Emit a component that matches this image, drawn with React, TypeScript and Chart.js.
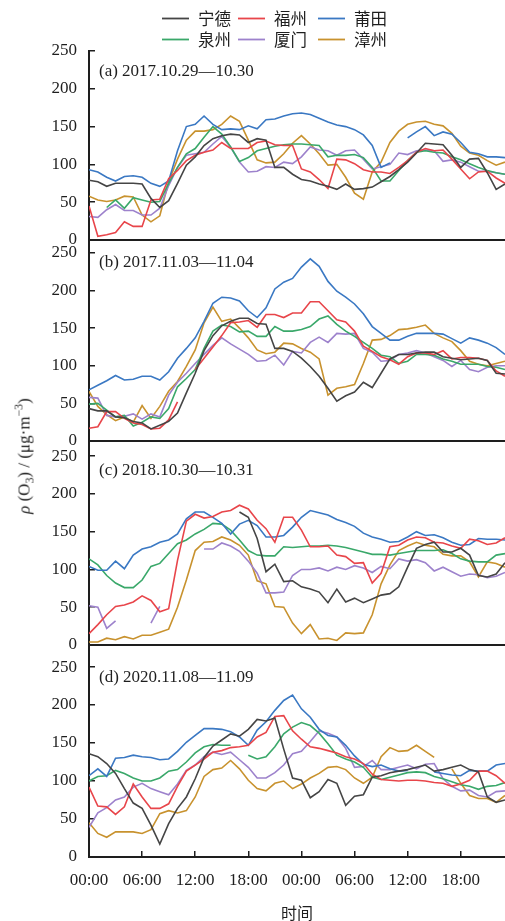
import React, { useEffect, useRef } from "react";
import { Chart, registerables } from "chart.js";

Chart.register(...registerables);

// ---------- data ----------
const HOURS = Array.from({ length: 48 }, (_, i) => i);
const X_TICKS = [0, 6, 12, 18, 24, 30, 36, 42];
const X_TICK_LABELS = ["00:00", "06:00", "12:00", "18:00", "00:00", "06:00", "12:00", "18:00"];
const Y_TICKS = [0, 50, 100, 150, 200, 250];
const CITIES = ["宁德", "福州", "莆田", "泉州", "厦门", "漳州"];
const PANEL_TITLES = [
  "(a) 2017.10.29—10.30",
  "(b) 2017.11.03—11.04",
  "(c) 2018.10.30—10.31",
  "(d) 2020.11.08—11.09",
];

const _ = null;

// (a) 2017.10.29—10.30
const A_NINGDE = [79, 77, 71, 75, 75, 75, 74, 55, 43, 52, 75, 99, 110, 125, 134, 138, 140, 139, 129, 134, 132, 96, 96, 87, 80, 78, 74, 71, 67, 74, 67, 68, 70, 77, 84, 93, 103, 115, 128, 127, 126, 112, 96, 107, 108, 89, 67, 74];
const A_FUZHOU = [45, 5, 7, 10, 24, 18, 18, 53, 54, 81, 92, 105, 112, 116, 119, 129, 121, 121, 121, 129, 131, 126, 125, 125, 94, 90, 80, 68, 107, 106, 101, 93, 90, 90, 88, 96, 105, 116, 121, 118, 119, 107, 94, 81, 90, 91, 82, 75];
const A_PUTIAN = [93, 90, 83, 78, 84, 85, 83, 75, 71, 78, 118, 150, 153, 164, 153, 146, 147, 146, 151, 147, 159, 160, 164, 167, 168, 166, 161, 156, 152, 150, 146, 139, 125, 96, 102, _, 135, 143, 150, 138, 143, 140, 129, 116, 114, 110, 110, 109];
const A_QUANZHOU = [_, _, 43, 53, 42, 56, 53, 50, 51, 75, 96, 114, 121, 136, 150, 140, 123, 104, 109, 118, 121, 124, 126, 127, 127, 126, 125, 110, 112, 112, 113, 109, 96, 78, 78, 92, 105, 116, 118, 116, 115, 110, 106, 101, 96, 92, 89, 87];
const A_XIAMEN = [31, 30, 40, 47, 39, 39, 33, 33, 42, 72, 96, 112, 114, 116, 127, 137, 123, 103, 90, 91, 97, 96, 103, 101, 110, 123, 119, 118, 112, 118, 119, 107, 94, 97, 100, 115, 113, 118, 119, 118, 104, 106, 103, 97, 91, 91, 89, 87];
const A_ZHANGZHOU = [58, 53, 51, 53, 58, 57, 33, 24, 32, 77, 107, 132, 144, 144, 146, 153, 164, 157, 132, 106, 102, 103, 114, 128, 138, 127, 114, 99, 100, 83, 62, 54, 90, 103, 129, 144, 153, 156, 157, 153, 151, 141, 124, 115, 112, 105, 99, 103];

// (b) 2017.11.03—11.04
const B_NINGDE = [43, 40, 40, 32, 31, 26, 24, 16, 21, 26, 37, 64, 90, 120, 140, 153, 159, 163, 163, 156, 155, 123, 123, 119, 110, 99, 86, 70, 53, 60, 65, 78, 71, 90, 109, 115, 115, 117, 118, 118, 112, 110, 108, 109, 110, 107, 90, 89];
const B_FUZHOU = [17, 19, 39, 39, 30, 24, 22, 16, 17, 28, 52, _, 95, 110, 125, 140, 157, 158, 160, 151, 168, 168, 164, 170, 170, 185, 185, 173, 161, 158, 146, 126, 119, 112, 108, 102, 112, 117, 117, 115, 120, 109, 111, 111, 110, 107, 93, 86];
const B_PUTIAN = [68, 74, 80, 87, 81, 82, 86, 86, 81, 92, 110, 123, 137, 159, 183, 191, 190, 186, 173, 164, 177, 202, 211, 216, 231, 242, 232, 212, 199, 191, 182, 169, 152, 143, 134, 134, 139, 143, 143, 143, 142, 136, 130, 137, 134, 130, 124, 115];
const B_QUANZHOU = [49, 50, 41, 32, 34, 20, 25, 32, 30, 43, 72, 83, 95, 123, 146, 154, 152, 145, 146, 139, 139, 152, 146, 146, 148, 152, 162, 166, 155, 146, 139, 131, 123, 114, 112, 103, 106, 115, 115, 114, 109, 106, 102, 102, 102, 99, 98, 95];
const B_XIAMEN = [58, 57, 34, 32, 33, 36, 29, 36, 32, 61, 78, 90, 103, 115, 127, 137, 129, 122, 115, 106, 107, 114, 101, 119, 117, 131, 138, 131, 143, 142, 143, 123, 118, 106, 107, 115, 117, 120, 117, 112, 107, 99, 107, 95, 92, 98, 100, 100];
const B_ZHANGZHOU = [66, 46, 35, 27, 32, 25, 47, 30, 46, 66, 79, 99, 121, 157, 178, 159, 162, 150, 137, 121, 116, 118, 130, 129, 123, 118, 109, 61, 70, 72, 75, 103, 134, 135, 140, 148, 149, 151, 154, 143, 137, 132, 120, 106, 102, 100, 103, 106];

// (c) 2018.10.30—10.31
const C_NINGDE = [_, _, _, _, _, _, _, _, _, _, _, _, _, _, _, _, _, 176, 169, 141, 97, 107, 84, 85, 77, 74, 70, 56, 74, 57, 62, 56, 61, 66, 68, 77, 103, 128, 133, 136, 123, 123, 128, 119, 92, 90, 94, 109];
const C_FUZHOU = [15, 27, 40, 51, 53, 57, 65, 59, 44, 48, 112, 164, 173, 168, 170, 176, 178, 185, 180, 165, 154, 136, 169, 169, 152, 130, 130, 131, 119, 117, 108, 109, 82, 95, 130, 132, 139, 143, 142, 136, 135, 131, 128, 140, 138, 133, 135, 142];
const C_PUTIAN = [104, 99, 99, 111, 101, 119, 127, 130, 136, 139, 147, 167, 176, 176, 169, 161, 147, 160, 165, 158, 143, 143, 145, 156, 169, 178, 175, 172, 166, 162, 157, 148, 143, 140, 136, 137, 143, 150, 145, 146, 142, 136, 132, 133, 141, 140, 140, 139];
const C_QUANZHOU = [114, 106, 92, 82, 76, 76, 86, 104, 108, 121, 134, 139, 147, 153, 161, 160, 152, 139, 125, 119, 118, 118, 130, 129, 130, 131, 131, 132, 131, 129, 126, 123, 120, 120, 119, 121, 123, 125, 125, 125, 126, 121, 114, 111, 110, 110, 119, 121];
const C_XIAMEN = [52, 50, 22, 32, _, _, _, 29, 51, _, _, _, _, 127, 127, 135, 131, 124, 111, 95, 69, 69, 70, 92, 100, 100, 102, 98, 103, 100, 105, 102, 96, 104, 101, 114, 111, 113, 109, 98, 103, 97, 91, 94, 93, 89, 91, 96];
const C_ZHANGZHOU = [4, 4, 9, 7, 11, 8, 13, 13, 17, 21, 50, 86, 125, 136, 137, 143, 139, 132, 119, 85, 81, 51, 50, 29, 15, 27, 8, 9, 6, 16, 15, 16, 40, 81, 106, 125, 131, 136, 132, 130, 120, 118, 118, 110, 90, 110, 108, 103];

// (d) 2020.11.08—11.09
const D_NINGDE = [136, 132, 123, 110, 90, 71, 64, 42, 17, 44, 64, 79, 103, 131, 146, 154, 162, 159, 168, 181, 179, 183, 142, 104, 101, 78, 86, 102, 97, 68, 80, 82, 105, 107, 111, 113, 115, 118, 121, 113, 115, 118, 121, 115, 112, 79, 72, 75];
const D_FUZHOU = [92, 67, 66, 56, 66, 96, 79, 64, 64, 70, 93, 113, 121, 129, 138, 140, 144, 145, 147, 158, 164, 185, 186, 166, 155, 145, 143, 140, 137, 132, 129, 123, 109, 102, 101, 100, 101, 101, 100, 98, 97, 93, 96, 101, 113, 113, 107, 97];
const D_PUTIAN = [107, 116, 106, 130, 131, 134, 132, 131, 128, 129, 139, 151, 160, 169, 169, 168, 165, 158, 147, 167, 178, 193, 206, 213, 195, 184, 168, 160, 158, 147, 133, 122, 119, 121, 116, 113, 114, _, _, 112, 110, 108, 107, 114, 113, 113, 121, 123];
const D_QUANZHOU = [100, 106, 107, 114, 110, 104, 100, 100, 104, 113, 115, 125, 137, 145, 148, 147, 147, _, 134, 129, 132, 145, 162, 171, 177, 173, 163, 149, 134, 129, 125, 118, 105, 102, 105, 108, 111, 112, 111, 106, 103, 99, 95, 93, 89, 93, 94, 98];
const D_XIAMEN = [39, 58, 65, 75, 79, 92, 97, 90, 86, 82, 96, 114, 121, 132, 138, 135, 138, 128, 118, 104, 104, 111, 121, 136, 139, 152, 166, 163, 158, 143, 118, 119, 127, 115, 115, 118, 121, 116, 122, 123, 103, 93, 87, 88, 81, 79, 86, 87];
const D_ZHANGZHOU = [45, 31, 26, 33, 33, 33, 31, 36, 57, 61, 58, 61, 79, 106, 115, 117, 127, 116, 101, 90, 87, 97, 100, 90, 96, 104, 110, 118, 119, 115, 104, 97, 105, 132, 144, 139, 140, 147, 139, 131, _, 116, 97, 81, 77, 77, 72, 81];

const PANEL_SERIES = [
  [A_NINGDE, A_FUZHOU, A_PUTIAN, A_QUANZHOU, A_XIAMEN, A_ZHANGZHOU],
  [B_NINGDE, B_FUZHOU, B_PUTIAN, B_QUANZHOU, B_XIAMEN, B_ZHANGZHOU],
  [C_NINGDE, C_FUZHOU, C_PUTIAN, C_QUANZHOU, C_XIAMEN, C_ZHANGZHOU],
  [D_NINGDE, D_FUZHOU, D_PUTIAN, D_QUANZHOU, D_XIAMEN, D_ZHANGZHOU],
];

// ---------- styles / layout ----------
const COLORS = ["#454545", "#e8454a", "#3a78c3", "#3aa86a", "#9d82cc", "#c8922e"];
const INK = "#1e1e1e";
const SERIF = "'Liberation Serif', 'Times New Roman', 'DejaVu Serif', serif";
const CJK = "'Noto Sans CJK SC', 'Noto Sans', sans-serif";
const W = 505;
const H = 921;
const AXIS_X = 89;
const PAD = 40;

// chart-area top/bottom (page px) and y max per panel
const PANEL_LAYOUT = [
  { top: 51, bottom: 240, yMax: 250, labelDy: 21 },
  { top: 240, bottom: 441, yMax: 267, labelDy: 23 },
  { top: 441, bottom: 645, yMax: 270, labelDy: 30 },
  { top: 645, bottom: 857, yMax: 279, labelDy: 33 },
];

const legendPlugin = {
  id: "cityLegend",
  afterDraw(chart: any, _args: any, opts: any) {
    if (!opts || !opts.show) return;
    const ctx = chart.ctx as CanvasRenderingContext2D;
    const cols = [162, 238, 318];
    const rows = [18.5, 39.5];
    ctx.save();
    chart.data.datasets.forEach((ds: any, i: number) => {
      const x = cols[i % 3];
      const y = rows[Math.floor(i / 3)];
      ctx.strokeStyle = ds.borderColor;
      ctx.lineWidth = 1.8;
      ctx.beginPath();
      ctx.moveTo(x, y);
      ctx.lineTo(x + 27, y);
      ctx.stroke();
      ctx.fillStyle = INK;
      ctx.font = `16.5px ${CJK}`;
      ctx.textBaseline = "middle";
      ctx.textAlign = "left";
      ctx.fillText(ds.label, x + 36, y + 0.5);
    });
    ctx.restore();
  },
};

const panelLabelPlugin = {
  id: "panelLabel",
  afterDraw(chart: any, _args: any, opts: any) {
    if (!opts || !opts.text) return;
    const ctx = chart.ctx as CanvasRenderingContext2D;
    const { left, top } = chart.chartArea;
    ctx.save();
    ctx.fillStyle = INK;
    ctx.font = `17px ${SERIF}`;
    ctx.textBaseline = "middle";
    ctx.textAlign = "left";
    ctx.fillText(opts.text, left + 10, top + opts.dy);
    ctx.restore();
  },
};

function Panel({ index }: { index: number }) {
  const ref = useRef<HTMLCanvasElement | null>(null);
  const lay = PANEL_LAYOUT[index];
  const isFirst = index === 0;
  const isLast = index === PANEL_LAYOUT.length - 1;
  const canvasTop = isFirst ? 0 : lay.top - PAD;
  const padTop = lay.top - canvasTop;
  const xAxisH = isLast ? 70 : 0;
  const canvasH = isLast ? lay.bottom + xAxisH - canvasTop : lay.bottom + PAD - canvasTop;
  const padBottom = isLast ? 0 : PAD;

  useEffect(() => {
    if (!ref.current) return;
    const series = PANEL_SERIES[index];
    const chart = new Chart(ref.current, {
      type: "line",
      data: {
        datasets: series.map((vals, si) => ({
          label: CITIES[si],
          data: HOURS.map((h, i) => ({ x: h, y: vals[i] })),
          borderColor: COLORS[si],
          backgroundColor: COLORS[si],
          borderWidth: 1.6,
          pointRadius: 0,
          pointHoverRadius: 0,
          tension: 0,
          spanGaps: false,
          fill: false,
        })),
      },
      options: {
        responsive: false,
        animation: false,
        events: [],
        layout: { padding: { top: padTop, bottom: padBottom, left: 0, right: 0 } },
        plugins: {
          legend: { display: false },
          tooltip: { enabled: false },
          title: { display: false },
          cityLegend: { show: isFirst },
          panelLabel: { text: PANEL_TITLES[index], dy: lay.labelDy },
        } as any,
        scales: {
          x: {
            type: "linear",
            min: 0,
            max: 47,
            afterBuildTicks: (scale: any) => {
              scale.ticks = X_TICKS.map((v) => ({ value: v }));
            },
            afterFit: (scale: any) => {
              scale.height = xAxisH;
            },
            ticks: {
              display: isLast,
              autoSkip: false,
              maxRotation: 0,
              padding: 19,
              color: INK,
              font: { family: SERIF, size: 17 },
              callback: (v: any) => {
                const k = X_TICKS.indexOf(Number(v));
                return k >= 0 ? X_TICK_LABELS[k] : "";
              },
            },
            grid: {
              display: true,
              drawOnChartArea: false,
              drawTicks: isLast,
              tickLength: -6,
              color: INK,
              lineWidth: 1.5,
            },
            border: { display: true, color: INK, width: 2 },
            title: {
              display: isLast,
              text: "时间",
              color: INK,
              font: { family: CJK, size: 16 },
              padding: { top: 0, bottom: 4 },
            },
          },
          y: {
            type: "linear",
            min: 0,
            max: lay.yMax,
            afterBuildTicks: (scale: any) => {
              scale.ticks = Y_TICKS.map((v) => ({ value: v }));
            },
            afterFit: (scale: any) => {
              scale.width = AXIS_X;
            },
            ticks: {
              padding: 18,
              color: INK,
              font: { family: SERIF, size: 17 },
              callback: (v: any) => String(v),
            },
            grid: {
              display: true,
              drawOnChartArea: false,
              drawTicks: true,
              tickLength: -6,
              color: INK,
              lineWidth: 1.5,
            },
            border: { display: true, color: INK, width: 2 },
          },
        },
      },
      plugins: [legendPlugin, panelLabelPlugin],
    } as any);
    return () => chart.destroy();
  }, [index]);

  return (
    <canvas
      ref={ref}
      width={W}
      height={canvasH}
      style={{ position: "absolute", left: 0, top: canvasTop, width: W, height: canvasH }}
    />
  );
}

export default function App() {
  return (
    <div
      style={{
        position: "absolute",
        left: 0,
        top: 0,
        width: W,
        height: H,
        overflow: "hidden",
        background: "#ffffff",
      }}
    >
      {PANEL_LAYOUT.map((_l, i) => (
        <Panel key={i} index={i} />
      ))}
      <div
        style={{
          position: "absolute",
          left: 25,
          top: 456,
          transform: "translate(-50%, -50%) rotate(-90deg)",
          whiteSpace: "nowrap",
          fontFamily: SERIF,
          fontSize: 17,
          color: INK,
          lineHeight: 1,
        }}
      >
        <i>ρ</i> (O<sub style={{ fontSize: "0.7em" }}>3</sub>) / (μg·m<sup style={{ fontSize: "0.7em" }}>−3</sup>)
      </div>
    </div>
  );
}
